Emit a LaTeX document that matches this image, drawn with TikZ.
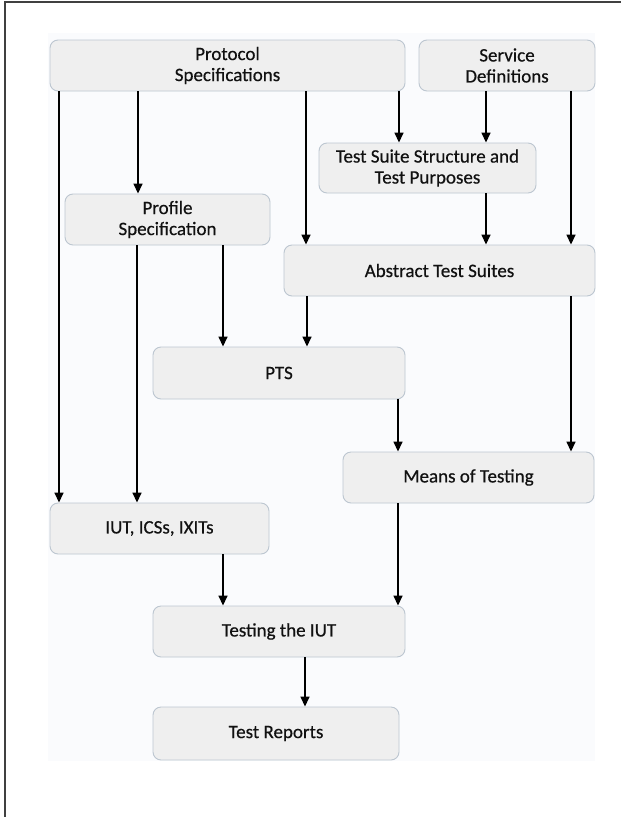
\documentclass[tikz,border=0pt]{standalone}
\usepackage{fontspec}
\setmainfont{Carlito}
\newfontfamily\boxfont{Carlito}[FakeBold=0.5]
\usetikzlibrary{arrows.meta}
\definecolor{boxfill}{HTML}{EFEFEF}
\definecolor{boxline}{HTML}{BCC6D0}
\definecolor{bgfill}{HTML}{FAFBFD}
\definecolor{framecol}{HTML}{404040}
\definecolor{txt}{HTML}{111111}
\tikzset{
  box/.style={draw=boxline, line width=0.9pt, fill=boxfill, rounded corners=8pt,
    inner sep=0pt, align=center, text=txt, font=\boxfont\fontsize{19}{21}\selectfont},
  arr/.style={line width=1.5pt, black, -{Triangle[width=9pt,length=10pt]}}
}
\begin{document}
\begin{tikzpicture}[x=1pt,y=-1pt]
\useasboundingbox (0,0) rectangle (621,817);
\fill[bgfill] (48,33) rectangle (595,761);
\draw[framecol, line width=1.4pt] (5,817) -- (5,2) -- (621,2);

\node[box, minimum width=355pt, minimum height=51pt] (prot) at (227.5,65.5) {Protocol\\Specifications};
\node[box, minimum width=176pt, minimum height=51pt] (serv) at (507,65.5) {Service\\Definitions};
\node[box, minimum width=217pt, minimum height=50pt] (tss) at (427.5,168) {Test Suite Structure and\\Test Purposes};
\node[box, minimum width=205pt, minimum height=51pt] (prof) at (167.5,219.5) {Profile\\Specification};
\node[box, minimum width=311pt, minimum height=51pt] (ats) at (439.5,270.5) {Abstract Test Suites};
\node[box, minimum width=252pt, minimum height=52pt] (pts) at (279,373) {PTS};
\node[box, minimum width=251pt, minimum height=51pt] (mot) at (468.5,477.5) {Means of Testing};
\node[box, minimum width=219pt, minimum height=51pt] (iut) at (159.5,528.5) {IUT, ICSs, IXITs};
\node[box, minimum width=252pt, minimum height=51pt] (test) at (279,631.5) {Testing the IUT};
\node[box, minimum width=246pt, minimum height=53pt] (rep) at (276,733.5) {Test Reports};

\draw[arr] (59,0 |- prot.south) -- (59,0 |- iut.north);
\draw[arr] (138,0 |- prot.south) -- (138,0 |- prof.north);
\draw[arr] (306,0 |- prot.south) -- (306,0 |- ats.north);
\draw[arr] (399,0 |- prot.south) -- (399,0 |- tss.north);
\draw[arr] (486,0 |- serv.south) -- (486,0 |- tss.north);
\draw[arr] (571,0 |- serv.south) -- (571,0 |- ats.north);
\draw[arr] (486,0 |- tss.south) -- (486,0 |- ats.north);
\draw[arr] (137,0 |- prof.south) -- (137,0 |- iut.north);
\draw[arr] (223,0 |- prof.south) -- (223,0 |- pts.north);
\draw[arr] (307,0 |- ats.south) -- (307,0 |- pts.north);
\draw[arr] (571,0 |- ats.south) -- (571,0 |- mot.north);
\draw[arr] (398,0 |- pts.south) -- (398,0 |- mot.north);
\draw[arr] (223,0 |- iut.south) -- (223,0 |- test.north);
\draw[arr] (398,0 |- mot.south) -- (398,0 |- test.north);
\draw[arr] (305,0 |- test.south) -- (305,0 |- rep.north);
\end{tikzpicture}
\end{document}
